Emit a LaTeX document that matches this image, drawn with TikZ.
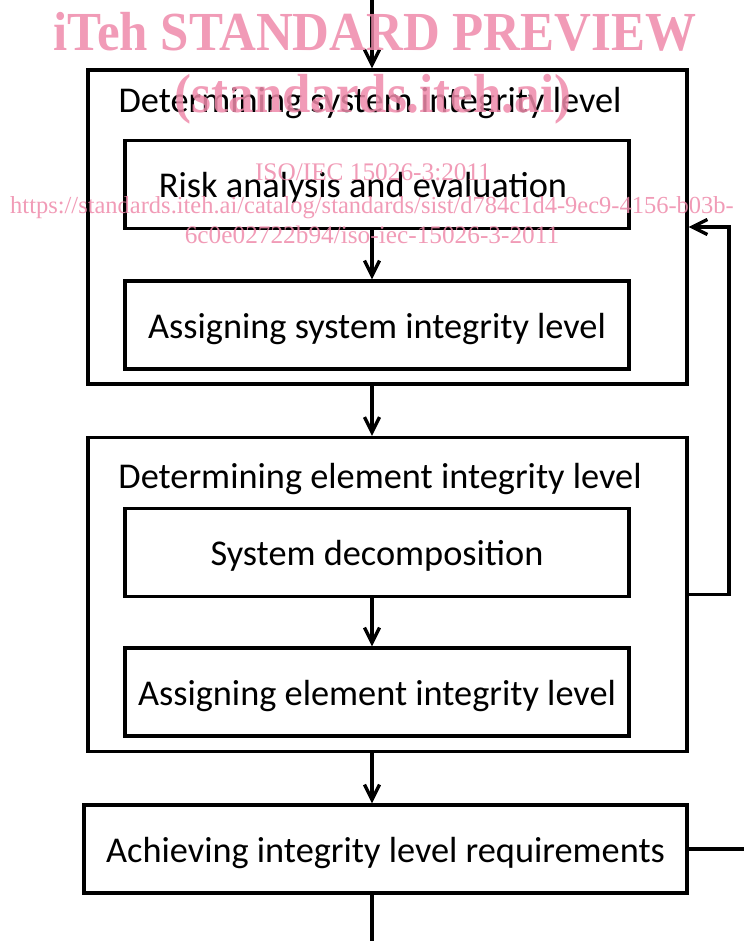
\documentclass[tikz,border=0pt]{standalone}
\usepackage{fontspec}
\setmainfont{Carlito}
\newfontfamily\wmfont{Liberation Serif}
\usetikzlibrary{arrows.meta}
\definecolor{wmpink}{RGB}{238,138,170}
\tikzset{
outerbox/.style={rectangle, draw=black, line width=0.1cm, fill=none, inner sep=0pt, minimum width=17.97cm, minimum height=9.42cm},
innerbox/.style={rectangle, draw=black, line width=0.1cm, fill=none, inner sep=0pt, minimum width=15.12cm, minimum height=2.64cm, text height=0.8cm, text depth=0pt, font=\fontsize{31}{37}\selectfont},
titletext/.style={anchor=base, inner sep=0pt, font=\fontsize{31}{37}\selectfont},
flowarrow/.style={line width=0.1cm, -{Straight Barb[length=0.45cm,width=0.45cm]}},
flowline/.style={line width=0.1cm},
wmbig/.style={anchor=base, inner sep=0pt, text=wmpink, text opacity=0.85, font=\wmfont\bfseries\fontsize{43.5}{50}\selectfont},
wmsmall/.style={anchor=base, inner sep=0pt, text=wmpink, text opacity=0.85, font=\wmfont\fontsize{21.6}{26}\selectfont},
}
\begin{document}
\begin{tikzpicture}[x=0.03cm,y=-0.03cm]
    \useasboundingbox (0,0) rectangle (744,941);
    % boxes
    \node[outerbox] at (387.5,227) (sys) {};
    \node[titletext] at (370,112) (systitle) {Determining system integrity level};
    \node[innerbox] at (377,184.5) (risk) {Risk analysis and evaluation\hspace*{0.84cm}};
    \node[innerbox] at (377,325) (assignsys) {Assigning system integrity level};
    \node[outerbox] at (387.5,594.5) (elem) {};
    \node[titletext] at (380,488) (elemtitle) {Determining element integrity level};
    \node[innerbox] at (377,552.5) (decomp) {System decomposition};
    \node[innerbox] at (377,692) (assignelem) {Assigning element integrity level};
    \node[innerbox, minimum width=18.09cm] at (385.5,849) (achieve) {Achieving integrity level requirements};
    % free ends
    \coordinate (spine) at (372,0);
    \coordinate (exitbottom) at (372,941);
    \coordinate (exitright) at (744,849);
    \coordinate (fbturn) at (729,594.5);
     \draw[flowarrow] (spine) -- (sys.north -| spine);
     \draw[flowarrow] (risk.south -| spine) -- (assignsys.north -| spine);
     \draw[flowarrow] (sys.south -| spine) -- (elem.north -| spine);
     \draw[flowarrow] (decomp.south -| spine) -- (assignelem.north -| spine);
     \draw[flowarrow] (elem.south -| spine) -- (achieve.north -| spine);
     \draw[flowline] (achieve.south -| spine) -- (exitbottom);
     \draw[flowline] (achieve.east) -- (exitright);
     \draw[flowarrow] (elem.east) -- (fbturn) |- (sys.east);
    % watermark
    \node[wmbig] at (375,50) (wm1) {\scalebox{1}[1.08]{iTeh STANDARD PREVIEW}};
    \node[wmbig] at (373,112) (wm2) {\scalebox{1}[1.08]{(standards.iteh.ai)}};
    \node[wmsmall] at (373,180) (wm3) {ISO/IEC 15026-3:2011};
    \node[wmsmall, font=\wmfont\fontsize{20.9}{25}\selectfont] at (372,213) (wm4) {https://standards.iteh.ai/catalog/standards/sist/d784c1d4-9ec9-4156-b03b-};
    \node[wmsmall] at (372,243) (wm5) {6c0e02722b94/iso-iec-15026-3-2011};
\end{tikzpicture}
\end{document}
